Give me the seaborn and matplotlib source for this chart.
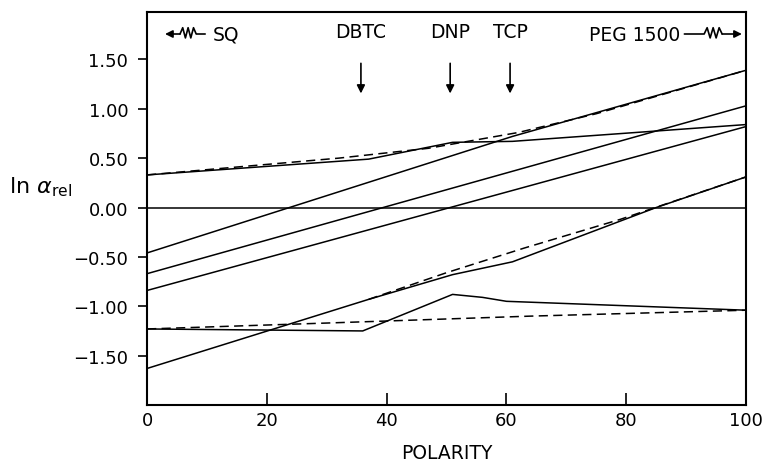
import numpy as np
import pandas as pd
import seaborn as sns
import matplotlib.pyplot as plt

# polarity / ln alpha_rel values
a_x = [0, 37, 51, 61, 100]
a_y = [0.33, 0.49, 0.66, 0.67, 0.84]
a_fit_x = [0, 15, 32, 47, 62, 75, 100]
a_fit_y = [0.33, 0.41, 0.50, 0.60, 0.76, 0.95, 1.39]

b_x = [0, 61, 100]
b_y = [-0.46, 0.72, 1.39]

c_x = [0, 100]
c_y = [-0.67, 1.03]

d_x = [0, 100]
d_y = [-0.84, 0.82]

e_x = [0, 36, 51, 56, 60, 100]
e_y = [-1.23, -1.25, -0.88, -0.91, -0.95, -1.04]
e_fit_x = [0, 30, 64, 100]
e_fit_y = [-1.23, -1.17, -1.10, -1.04]

f_x = [0, 37, 51, 61, 85, 100]
f_y = [-1.63, -0.93, -0.68, -0.55, 0.0, 0.31]
f_fit_x = [37, 50, 63, 79, 100]
f_fit_y = [-0.93, -0.66, -0.41, -0.12, 0.31]

phases = ["DBTC", "DNP", "TCP"]
phase_pos = [35.7, 50.6, 60.6]

x_ticks = [0, 20, 40, 60, 80, 100]
y_ticks = [1.5, 1.0, 0.5, 0.0, -0.5, -1.0, -1.5]


def build_frame():
    series = [
        ("A", "solid", a_x, a_y), ("A fit", "dashed", a_fit_x, a_fit_y),
        ("B", "solid", b_x, b_y), ("C", "solid", c_x, c_y),
        ("D", "solid", d_x, d_y),
        ("E", "solid", e_x, e_y), ("E fit", "dashed", e_fit_x, e_fit_y),
        ("F", "solid", f_x, f_y), ("F fit", "dashed", f_fit_x, f_fit_y),
    ]
    rows = []
    for name, kind, xs, ys in series:
        for x, y in zip(xs, ys):
            rows.append({"series": name, "kind": kind, "polarity": x, "ln_alpha": y})
    return pd.DataFrame(rows)


def zigzag_arrow(ax, x_tail, x_tip, z0, z1, y):
    # resistor-like squiggle with an arrow head, in axes fraction
    zx = np.linspace(z0, z1, 7)
    zy = y + np.array([0, 0.016, -0.010, 0.016, -0.010, 0.016, 0])
    if x_tail < z0:
        xs, ys = [x_tail] + list(zx), [y] + list(zy)
        start = z1
    else:
        xs, ys = list(zx) + [x_tail], list(zy) + [y]
        start = z0
    ax.plot(xs, ys, color="black", lw=1.2, transform=ax.transAxes, clip_on=False)
    ax.annotate("", xy=(x_tip, y), xytext=(start, y), xycoords="axes fraction",
                arrowprops=dict(arrowstyle="-|>", color="black", lw=1.2,
                                mutation_scale=11, shrinkA=0, shrinkB=0))


df = build_frame()

sns.set_style("ticks")
plt.rcParams["font.family"] = ["DejaVu Sans"]
plt.rcParams.update({"text.color": "black", "axes.labelcolor": "black",
                     "xtick.color": "black", "ytick.color": "black",
                     "axes.edgecolor": "black"})

fig = plt.figure(figsize=(7.66, 4.64), dpi=100)
ax = fig.add_axes([0.192, 0.125, 0.782, 0.847])

sns.lineplot(data=df, x="polarity", y="ln_alpha", units="series", estimator=None,
             style="kind", dashes={"solid": "", "dashed": (6, 3.5)},
             color="black", lw=1.1, legend=False, ax=ax)
ax.axhline(0, color="black", lw=1.1)

ax.set_xlim(0, 100)
ax.set_ylim(-2.0, 1.98)
ax.set_xticks(x_ticks)
ax.set_yticks(y_ticks)
ax.set_yticklabels([f"{v:.2f}".replace("-", "\u2212") for v in y_ticks])
ax.tick_params(axis="x", direction="in", length=9, width=1.2, labelsize=13, pad=4)
ax.tick_params(axis="y", direction="out", length=6.5, width=1.2, labelsize=13, pad=7)
for sp in ax.spines.values():
    sp.set_linewidth(1.5)
    sp.set_visible(True)

ax.set_xlabel("POLARITY", fontsize=13.5, va="center")
ax.xaxis.set_label_coords(0.5, -0.12)
ax.set_ylabel(r"ln $\alpha_{\mathrm{rel}}$", fontsize=16, rotation=0, va="center")
ax.yaxis.set_label_coords(-0.178, 0.557)

# stationary phase markers
for name, pos in zip(phases, phase_pos):
    ax.text(pos, 1.78, name, ha="center", va="center", fontsize=13.5)
    ax.annotate("", xy=(pos, 1.155), xytext=(pos, 1.46),
                arrowprops=dict(arrowstyle="-|>", color="black", lw=1.2,
                                mutation_scale=12, shrinkA=0, shrinkB=0))

ax.text(0.110, 0.944, "SQ", transform=ax.transAxes, ha="left", va="center", fontsize=13.5)
zigzag_arrow(ax, 0.097, 0.030, 0.055, 0.082, 0.944)
ax.text(0.890, 0.944, "PEG 1500", transform=ax.transAxes, ha="right", va="center", fontsize=13.5)
zigzag_arrow(ax, 0.897, 0.993, 0.930, 0.960, 0.944)

plt.savefig("out.png", dpi=100)
